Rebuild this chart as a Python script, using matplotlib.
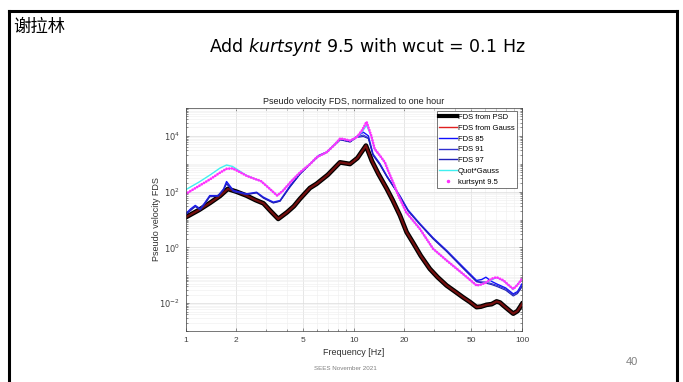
import numpy as np
import matplotlib
matplotlib.use("Agg")
import matplotlib.pyplot as plt
from matplotlib.lines import Line2D
from matplotlib.ticker import LogLocator, NullFormatter, FixedLocator, FixedFormatter

plt.rcParams["font.family"] = ["Liberation Sans", "DejaVu Sans"]

# FDS from PSD (and from Gauss, drawn on top)
f_psd = [1.0, 1.2, 1.4, 1.6, 1.78, 2.0, 2.3, 2.6, 2.9, 3.2, 3.55, 4.0, 4.4, 4.78, 5.48,
         6.0, 7.0, 8.27, 9.48, 10.5, 11.8, 12.8, 14.0, 15.7, 17.0, 18.8, 20.6, 22.6,
         25.0, 28.3, 31.5, 35.6, 40.0, 44.7, 49.0, 53.7, 57.0, 61.6, 66.0, 70.6, 74.0,
         77.7, 83.0, 88.7, 94.0, 100.0]
v_psd = [12, 22, 40, 70, 125, 100, 72, 50, 38, 20, 10.5, 18, 30, 55, 135,
         190, 400, 1120, 980, 1600, 4470, 1260, 430, 126, 50, 14, 3.5, 1.4,
         0.5, 0.17, 0.085, 0.043, 0.026, 0.016, 0.011, 0.0072, 0.0075, 0.0087, 0.0092, 0.0115, 0.0105,
         0.0081, 0.0058, 0.0042, 0.0052, 0.0093]

# kurtsynt 9.5
f_kurt = [1.0, 1.2, 1.4, 1.6, 1.75, 1.9, 2.1, 2.3, 2.6, 2.8, 3.1, 3.5, 3.8, 4.2, 4.8,
          5.5, 6.0, 6.9, 7.6, 8.3, 9.5, 10.4, 11.2, 11.9, 12.7, 13.3, 14.3, 15.3, 16.0,
          17.1, 18.4, 20.5, 24.7, 29.6, 35.6, 44.7, 53.7, 57.5, 61.6, 66.0, 70.6, 77.7,
          83.0, 88.7, 94.0, 100.0]
v_kurt = [83, 160, 280, 480, 660, 680, 500, 370, 280, 240, 140, 72, 110, 220, 500,
          980, 1700, 2600, 4500, 8100, 6800, 8900, 16000, 32000, 10000, 3400, 1950, 1120, 560,
          220, 72, 18, 4.6, 0.89, 0.34, 0.11, 0.043, 0.047, 0.056, 0.075, 0.085, 0.065,
          0.045, 0.032, 0.045, 0.074]

# Quot*Gauss
f_quot = [1.0, 1.2, 1.4, 1.6, 1.75, 1.9, 2.1, 2.3, 2.6, 2.8, 3.1, 3.5, 3.8, 4.2, 4.8,
          5.5, 6.0, 6.9, 7.6, 8.3, 9.5, 10.4, 11.2, 11.9, 12.7, 13.3, 14.3, 15.3, 16.0,
          17.1, 18.4, 20.5, 24.7, 29.6, 35.6, 44.7, 53.7, 61.6, 70.6, 77.7, 88.7, 100.0]
v_quot = [117, 220, 400, 700, 900, 800, 540, 380, 280, 240, 140, 72, 110, 220, 500,
          980, 1700, 2600, 4500, 8100, 6800, 8900, 14000, 24000, 9500, 3300, 1900, 1100, 550,
          215, 72, 18, 4.6, 0.89, 0.34, 0.11, 0.043, 0.055, 0.083, 0.063, 0.031, 0.072]

# FDS 85 / 91 / 97
f_fds = [1.0, 1.07, 1.14, 1.22, 1.3, 1.39, 1.56, 1.68, 1.75, 1.92, 2.3, 2.64, 2.9, 3.32,
         3.64, 4.17, 4.8, 5.5, 6.2, 6.9, 8.3, 9.5, 10.4, 11.4, 12.2, 13.0, 14.3, 15.7,
         18.8, 21.0, 24.7, 29.6, 35.6, 44.7, 53.7, 57.5, 61.0, 66.0, 70.6, 80.0, 88.7, 94.0, 100.0]
v_fds85 = [16, 24, 32, 24, 40, 72, 72, 125, 230, 110, 83, 95, 63, 42,
           48, 160, 450, 1000, 2000, 2650, 7600, 6300, 9500, 13500, 10000, 2240, 1000, 370,
           70, 22, 7.1, 2.2, 0.78, 0.195, 0.065, 0.070, 0.085, 0.060, 0.049, 0.035, 0.0214, 0.026, 0.049]
v_fds91 = [15, 22, 30, 23, 38, 68, 70, 118, 200, 105, 80, 92, 60, 40,
           46, 150, 440, 980, 1950, 2600, 7400, 6200, 9200, 10700, 8500, 2100, 950, 350,
           68, 21, 6.8, 2.1, 0.74, 0.18, 0.060, 0.058, 0.057, 0.050, 0.044, 0.032, 0.020, 0.024, 0.042]
v_fds97 = [15, 21, 29, 22, 36, 65, 68, 115, 190, 100, 78, 90, 58, 39,
           45, 145, 430, 960, 1900, 2550, 7200, 6000, 8800, 9500, 8000, 2000, 900, 340,
           66, 20, 6.6, 2.0, 0.71, 0.175, 0.058, 0.054, 0.052, 0.046, 0.040, 0.029, 0.018, 0.022, 0.038]

xticks = [1, 2, 5, 10, 20, 50, 100]
yticks = [1e-2, 1e0, 1e2, 1e4]
ytick_labels = ["$10^{-2}$", "$10^{0}$", "$10^{2}$", "$10^{4}$"]

W, H = 683, 382
fig = plt.figure(figsize=(W / 100, H / 100), dpi=100)

# slide frame
fig.add_artist(Line2D([9 / W, 9 / W], [0, 1 - 11 / H], color="black", lw=2.2, transform=fig.transFigure))
fig.add_artist(Line2D([9 / W, 677 / W], [1 - 11 / H, 1 - 11 / H], color="black", lw=2.2, transform=fig.transFigure))
fig.add_artist(Line2D([677 / W, 677 / W], [0, 1 - 11 / H], color="black", lw=2.2, transform=fig.transFigure))

fig.text(13 / W, 1 - 27 / H, "谢拉林", fontsize=12.5, va="center", ha="left",
         family=["Noto Sans CJK SC", "DejaVu Sans"])
fig.text(367 / W, 1 - 47 / H, r"Add $\it{kurtsynt}$ 9.5 with wcut = 0.1 Hz", fontsize=12.5,
         ha="center", va="center", family=["DejaVu Sans"])
fig.text(632 / W, 1 - 362 / H, "40", fontsize=8, color="#808080", ha="center", va="center")
fig.text(345 / W, 1 - 368 / H, "SEES November 2021", fontsize=4.5, color="#808080", ha="center", va="center")

ax = fig.add_axes([185.7 / W, 51 / H, 336.3 / W, 223 / H])
ax.set_xscale("log")
ax.set_yscale("log")

ax.plot(f_psd, v_psd, color="black", lw=3.4, label="FDS from PSD")
ax.plot(f_psd, v_psd, color="#c01818", lw=1.6, alpha=0.6, label="FDS from Gauss")
ax.plot(f_fds, v_fds85, color="#1010ff", lw=1.0, label="FDS 85")
ax.plot(f_fds, v_fds91, color="#3030d0", lw=0.8, label="FDS 91")
ax.plot(f_fds, v_fds97, color="#2020b8", lw=0.8, label="FDS 97")
ax.plot(f_quot, v_quot, color="#40f0f0", lw=1.0, label="Quot*Gauss")
ax.plot(f_kurt, v_kurt, color="#ff30ff", lw=2.0, ls=(0, (0.01, 0.95)),
        dash_capstyle="round", label="kurtsynt 9.5")

ax.set_xlim(1, 100)
ax.set_ylim(1e-3, 1e5)
ax.xaxis.set_major_locator(FixedLocator(xticks))
ax.xaxis.set_major_formatter(FixedFormatter([str(t) for t in xticks]))
ax.xaxis.set_minor_locator(LogLocator(base=10, subs=np.arange(1, 10)))
ax.xaxis.set_minor_formatter(NullFormatter())
ax.yaxis.set_major_locator(FixedLocator(yticks))
ax.yaxis.set_major_formatter(FixedFormatter(ytick_labels))
ax.yaxis.set_minor_locator(LogLocator(base=10, subs=np.arange(1, 10), numticks=20))
ax.yaxis.set_minor_formatter(NullFormatter())

ax.grid(True, which="major", color="#dcdcdc", lw=0.5)
ax.grid(True, which="minor", color="#eeeeee", lw=0.4)
ax.set_axisbelow(True)
ax.tick_params(which="both", direction="in", top=True, right=True, colors="#404040",
               labelsize=6, width=0.4, pad=4)
ax.tick_params(which="major", length=2.5)
ax.tick_params(which="minor", length=1.2)
for s in ax.spines.values():
    s.set_color("#404040")
    s.set_linewidth(0.5)

ax.set_title("Pseudo velocity FDS, normalized to one hour", fontsize=6.5, color="#202020", pad=3)
ax.set_xlabel("Frequency [Hz]", fontsize=6.5, color="#303030", labelpad=3)
ax.set_ylabel("Pseudo velocity FDS", fontsize=6.5, color="#303030", labelpad=-1)

handles = [
    Line2D([], [], color="black", lw=3),
    Line2D([], [], color="#e02020", lw=1),
    Line2D([], [], color="#1010ff", lw=1),
    Line2D([], [], color="#3030d0", lw=1),
    Line2D([], [], color="#2020b8", lw=1),
    Line2D([], [], color="#40f0f0", lw=1),
    Line2D([], [], color="#ff30ff", ls="none", marker=".", ms=3),
]
labels = ["FDS from PSD", "FDS from Gauss", "FDS 85", "FDS 91", "FDS 97", "Quot*Gauss", "kurtsynt 9.5"]
leg = ax.legend(handles, labels, loc="upper right", bbox_to_anchor=(0.985, 0.985), fontsize=5.5,
                fancybox=False, framealpha=1, edgecolor="#404040", handlelength=2.3,
                handletextpad=0.15, labelspacing=0.45, borderpad=0.3, borderaxespad=0)
leg.get_frame().set_linewidth(0.5)

fig.savefig("out.png", dpi=100)
